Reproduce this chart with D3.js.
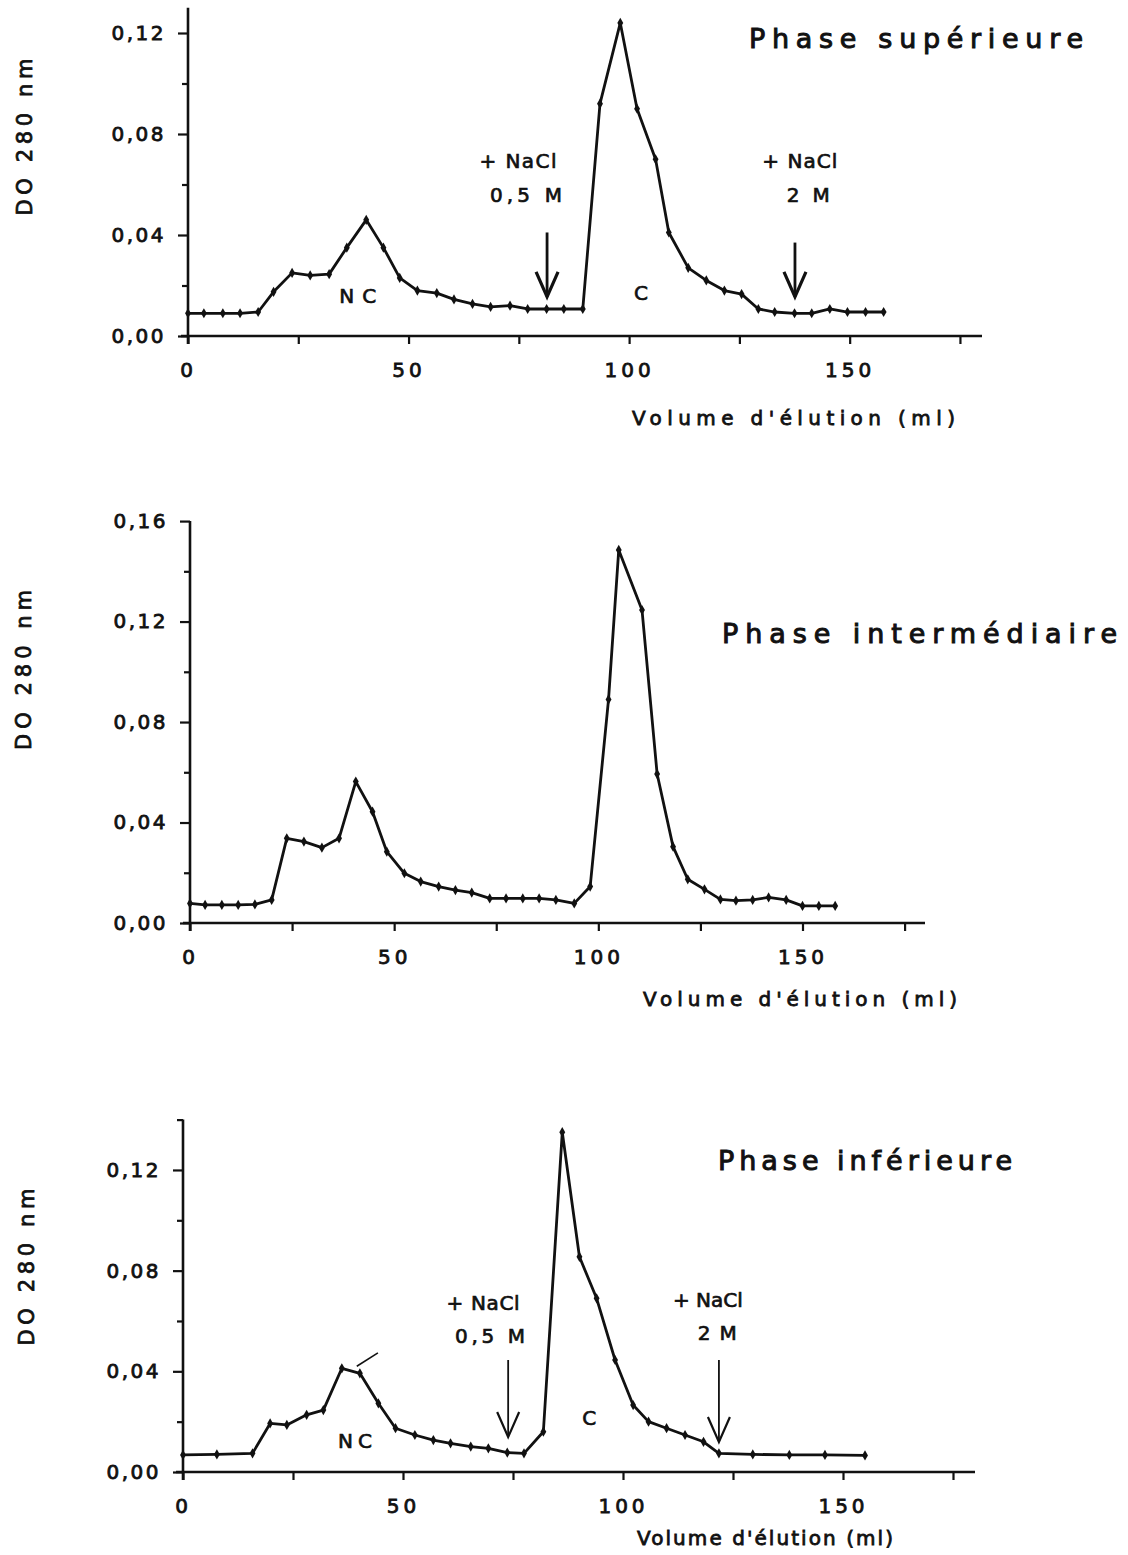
<!DOCTYPE html>
<html><head><meta charset="utf-8">
<script src="https://cdn.jsdelivr.net/npm/d3@7"></script>
<style>
html,body{margin:0;padding:0;background:#fff;}
text{font-family:"DejaVu Sans",sans-serif;fill:#111;}
</style></head>
<body>
<svg id="chart" width="1128" height="1555"></svg>
<script>
// ---------- DATA ----------
const xMajorTicks = [0, 50, 100, 150];
const xAllTicks = [0, 25, 50, 75, 100, 125, 150, 175];

// Phase supérieure
const supVolume = [0,3.6,7.9,11.8,15.9,19.4,23.6,27.7,32,36,40.4,44.3,48,52,56.4,60.3,64.5,68.6,73,77,81.3,85.2,89.5,93.4,98,101.8,106,109,113.4,117.5,121.6,125.5,129.3,133,137.5,141.4,145.5,149.5,153.6,157.7];
const supOD = [0.009,0.009,0.009,0.009,0.0095,0.0175,0.025,0.024,0.0245,0.035,0.046,0.035,0.023,0.018,0.017,0.0145,0.0127,0.0115,0.012,0.0107,0.0107,0.0107,0.0107,0.092,0.124,0.090,0.070,0.041,0.027,0.022,0.018,0.0166,0.0107,0.0095,0.009,0.009,0.0107,0.0095,0.0095,0.0095];
const supYMajor = [0, 0.04, 0.08, 0.12];
const supYMinor = [0.02, 0.06, 0.10];

// Phase intermédiaire
const intVolume = [0,3.7,7.8,11.8,15.9,20,23.7,27.9,32.3,36.5,40.6,44.7,48.2,52.5,56.5,60.9,65,69,73.4,77.4,81.5,85.5,89.6,94.1,98,102.5,105,110.7,114.4,118.3,121.9,126,129.9,133.7,137.8,141.7,146,150,154,158];
const intOD = [0.0078,0.0072,0.0072,0.0072,0.0074,0.0092,0.0337,0.0324,0.030,0.0337,0.0563,0.0443,0.0284,0.0198,0.0165,0.0145,0.0131,0.0121,0.0098,0.0098,0.0098,0.0098,0.0092,0.0078,0.0145,0.089,0.1485,0.1246,0.0593,0.0304,0.0174,0.0134,0.0094,0.0089,0.0092,0.0102,0.0092,0.0068,0.0068,0.0068];
const intYMajor = [0, 0.04, 0.08, 0.12, 0.16];
const intYMinor = [0.02, 0.06, 0.10, 0.14];

// Phase inférieure
const infVolume = [0,7.7,15.8,19.8,23.6,28.1,31.9,36.1,40.2,44.4,48.3,52.7,56.9,60.8,65.4,69.4,73.7,77.5,81.9,86.2,90.1,94,98.2,102.3,105.8,109.9,114.1,118.3,121.8,129.5,137.8,145.9,155];
const infOD = [0.0068,0.007,0.0074,0.0193,0.0187,0.0227,0.0246,0.0412,0.0392,0.0273,0.0174,0.0147,0.0127,0.0114,0.0101,0.0094,0.0077,0.0074,0.016,0.135,0.0855,0.069,0.0445,0.0266,0.020,0.0174,0.0147,0.012,0.0074,0.007,0.0068,0.0068,0.0066];
const infYMajor = [0, 0.04, 0.08, 0.12];
const infYMinor = [0.02, 0.06, 0.10, 0.14];

const titles = ["Phase supérieure", "Phase intermédiaire", "Phase inférieure"];
const xTitle = "Volume d'élution (ml)";
const yTitle = "DO 280 nm";

// annotations (data coordinates: volume, OD)
const supLabels = [
  {t:"+ NaCl", v:74.8, o:0.0665, w:77}, {t:"0,5 M", v:76.6, o:0.053, w:72},
  {t:"+ NaCl", v:138.7, o:0.0665, w:75}, {t:"2 M", v:140.6, o:0.053, w:43},
  {t:"NC", v:38.5, o:0.0131, w:37}, {t:"C", v:102.7, o:0.0143, w:0}
];
const supArrows = [{v:81.4, o1:0.041, o2:0.0155}, {v:137.6, o1:0.037, o2:0.0155}];
const infLabels = [
  {t:"+ NaCl", v:68.2, o:0.0644, w:73}, {t:"0,5 M", v:69.8, o:0.0513, w:70},
  {t:"+ NaCl", v:119.3, o:0.0656, w:70}, {t:"2 M", v:121.4, o:0.0524, w:39},
  {t:"NC", v:39.1, o:0.0095, w:34}, {t:"C", v:92.3, o:0.0187, w:0}
];
const infArrows = [{v:73.9, o1:0.0445, o2:0.0139}, {v:121.8, o1:0.0445, o2:0.0119}];
const infMarks = [[{v:39.5,o:0.042},{v:44.3,o:0.0473}]];

// ---------- LAYOUT ----------
const panels = [
  {vol:supVolume, od:supOD, yMajor:supYMajor, yMinor:supYMinor, yTop:0.13,
   x0:188, x1:982, y0:336, k:2525, title:titles[0], tX:749, tY:48, tW:334,
   xtX:632, xtY:425, xtW:323, ylX:24, ylY:137, ylW:157,
   labels:supLabels, arrows:supArrows, arrowW:2.8, marks:[]},
  {vol:intVolume, od:intOD, yMajor:intYMajor, yMinor:intYMinor, yTop:0.16,
   x0:190, x1:925, y0:923, k:2512, title:titles[1], tX:722, tY:643, tW:395,
   xtX:643, xtY:1006, xtW:314, ylX:23, ylY:670, ylW:160,
   labels:[], arrows:[], arrowW:2.8, marks:[]},
  {vol:infVolume, od:infOD, yMajor:infYMajor, yMinor:infYMinor, yTop:0.14,
   x0:183, x1:975, y0:1472, k:2517, title:titles[2], tX:718, tY:1170, tW:294,
   xtX:637, xtY:1545, xtW:256, ylX:26, ylY:1267, ylW:157,
   labels:infLabels, arrows:infArrows, arrowW:1.8, marks:infMarks}
];

const svg = d3.select("#chart");
const fmt = d => d3.format(".2f")(d).replace(".", ",");

panels.forEach(p => {
  const g = svg.append("g");
  const x = d3.scaleLinear().domain([0, 180]).range([p.x0, p.x1]);
  const y = d3.scaleLinear().domain([0, p.yTop]).range([p.y0, p.y0 - p.yTop * p.k]);
  const data = p.vol.map((v, i) => ({v, o: p.od[i]}));

  // y axis (major)
  const ya = g.append("g").attr("transform", `translate(${p.x0},0)`)
    .call(d3.axisLeft(y).tickValues(p.yMajor).tickSize(10).tickPadding(12).tickFormat(fmt));
  ya.select(".domain").remove();
  ya.selectAll("line").attr("stroke", "#111").attr("stroke-width", 2.2);
  ya.selectAll("text").style("font-size", "20px").attr("letter-spacing", "2.5px")
    .attr("stroke", "#111").attr("stroke-width", 0.8);
  // y axis (minor)
  const ym = g.append("g").attr("transform", `translate(${p.x0},0)`)
    .call(d3.axisLeft(y).tickValues(p.yMinor).tickSize(6).tickFormat(""));
  ym.select(".domain").remove();
  ym.selectAll("line").attr("stroke", "#111").attr("stroke-width", 2.2);

  // x axis
  const xa = g.append("g").attr("transform", `translate(0,${p.y0})`)
    .call(d3.axisBottom(x).tickValues(xAllTicks).tickSize(8).tickPadding(19)
      .tickFormat(d => xMajorTicks.includes(d) ? d : ""));
  xa.select(".domain").remove();
  xa.selectAll("line").attr("stroke", "#111").attr("stroke-width", 2.2);
  xa.selectAll("text").style("font-size", "20px").attr("letter-spacing", "4px")
    .attr("stroke", "#111").attr("stroke-width", 0.8);

  // axis lines
  g.append("line").attr("x1", p.x0).attr("x2", p.x0).attr("y1", y(p.yTop)).attr("y2", p.y0 + 8)
    .attr("stroke", "#111").attr("stroke-width", 2.6);
  g.append("line").attr("x1", p.x0 - 7).attr("x2", p.x1).attr("y1", p.y0).attr("y2", p.y0)
    .attr("stroke", "#111").attr("stroke-width", 2.6);

  // data line
  const line = d3.line().x(d => x(d.v)).y(d => y(d.o));
  g.append("path").datum(data).attr("d", line).attr("fill", "none")
    .attr("stroke", "#111").attr("stroke-width", 2.8).attr("stroke-linejoin", "round");
  g.selectAll(".pt").data(data).enter().append("path")
    .attr("transform", d => `translate(${x(d.v)},${y(d.o)})`)
    .attr("d", d3.symbol(d3.symbolDiamond, 30)).attr("fill", "#111");

  // titles
  g.append("text").attr("x", p.tX).attr("y", p.tY).text(p.title)
    .style("font-size", "27px").attr("textLength", p.tW).attr("lengthAdjust", "spacing")
    .attr("stroke", "#111").attr("stroke-width", 1);
  g.append("text").attr("x", p.xtX).attr("y", p.xtY).text(xTitle)
    .style("font-size", "20px").attr("textLength", p.xtW).attr("lengthAdjust", "spacing")
    .attr("stroke", "#111").attr("stroke-width", 0.8);
  g.append("text").attr("transform", `translate(${p.ylX},${p.ylY}) rotate(-90)`)
    .attr("x", -p.ylW / 2).attr("y", 8).text(yTitle)
    .style("font-size", "21px").attr("textLength", p.ylW).attr("lengthAdjust", "spacing")
    .attr("stroke", "#111").attr("stroke-width", 0.8);

  // annotations
  p.labels.forEach(l => {
    const t = g.append("text").attr("x", x(l.v) - (l.w ? l.w / 2 : 0)).attr("y", y(l.o))
      .text(l.t).style("font-size", "20px")
      .attr("text-anchor", l.w ? "start" : "middle")
      .attr("stroke", "#111").attr("stroke-width", 0.7);
    if (l.w) t.attr("textLength", l.w).attr("lengthAdjust", "spacing");
  });
  p.arrows.forEach(a => {
    const ax = x(a.v), ay1 = y(a.o1), ay2 = y(a.o2);
    g.append("line").attr("x1", ax).attr("x2", ax).attr("y1", ay1).attr("y2", ay2)
      .attr("stroke", "#111").attr("stroke-width", p.arrowW);
    g.append("path").attr("d", `M${ax - 11},${ay2 - 25}L${ax},${ay2}L${ax + 11},${ay2 - 25}`)
      .attr("fill", "none").attr("stroke", "#111").attr("stroke-width", p.arrowW + 0.4)
      .attr("stroke-linejoin", "miter");
  });
  p.marks.forEach(m => {
    g.append("path").datum(m).attr("d", line).attr("fill", "none")
      .attr("stroke", "#111").attr("stroke-width", 1.6);
  });
});
</script>
</body></html>
